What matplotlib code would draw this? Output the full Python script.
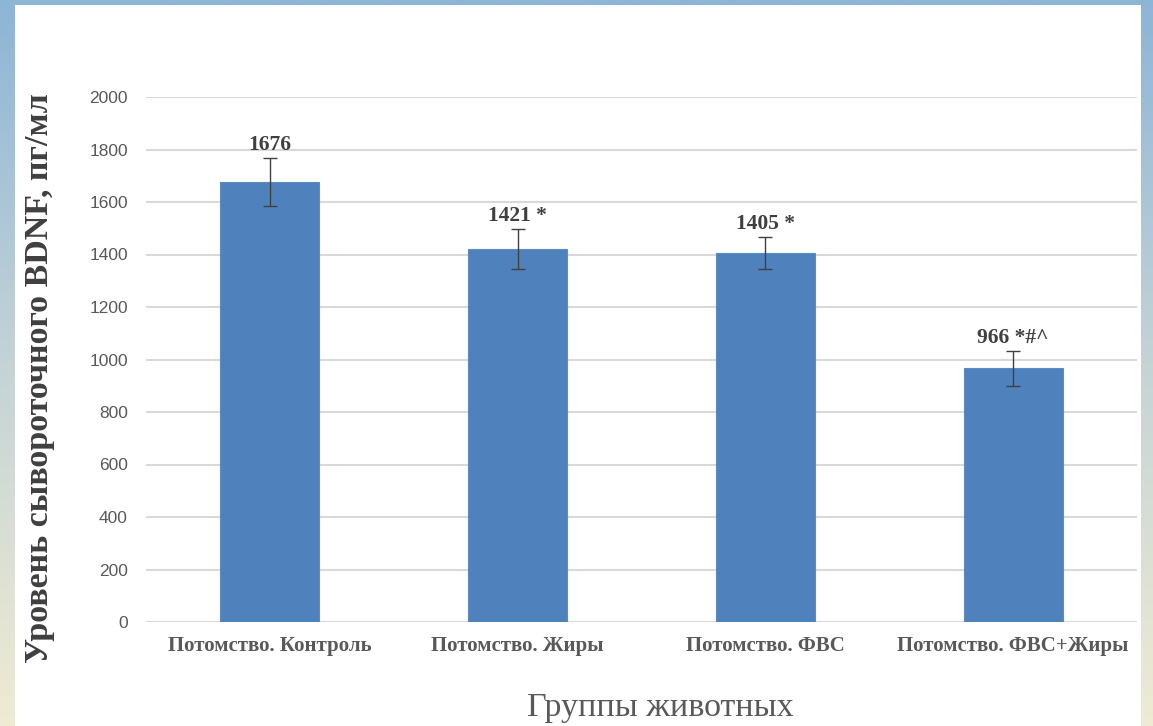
import numpy as np
import matplotlib
matplotlib.use("Agg")
import matplotlib.pyplot as plt
from matplotlib.colors import LinearSegmentedColormap

groups = ["Потомство. Контроль", "Потомство. Жиры", "Потомство. ФВС", "Потомство. ФВС+Жиры"]
bdnf = [1676, 1421, 1405, 966]
bdnf_err = [90, 76, 61, 67]
marks = ["", " *", " *", " *#^"]
yticks = [0, 200, 400, 600, 800, 1000, 1200, 1400, 1600, 1800, 2000]

W, H, DPI = 1153, 726, 100
fig = plt.figure(figsize=(W / DPI, H / DPI), dpi=DPI)

# slide backdrop: blue at the top fading to pale beige at the bottom
bg = fig.add_axes([0, 0, 1, 1], zorder=-10)
cmap = LinearSegmentedColormap.from_list(
    "slide", [(0.0, "#8db5d6"), (0.5, "#c5d3d6"), (1.0, "#efebd4")])
grad = np.linspace(0, 1, 256).reshape(-1, 1)
bg.imshow(grad, aspect="auto", cmap=cmap, extent=[0, 1, 0, 1], origin="upper")
bg.add_patch(plt.Rectangle((15 / W, 0), (1141 - 15) / W, (H - 5) / H,
                           facecolor="white", edgecolor="none"))
bg.set_xlim(0, 1)
bg.set_ylim(0, 1)
bg.axis("off")

left, right = 146 / W, 1137 / W
bottom, top = 1 - 622 / H, 1 - 97 / H
ax = fig.add_axes([left, bottom, right - left, top - bottom])
ax.set_facecolor("none")

x = np.arange(len(groups))
ax.bar(x, bdnf, width=0.4, color="#4f81bd", edgecolor="#5b8cc6", linewidth=0.8, zorder=3)
ax.errorbar(x, bdnf, yerr=bdnf_err, fmt="none", ecolor="#404040",
            elinewidth=1.0, capsize=5, capthick=1.0, zorder=4)

for xi, v, e, m in zip(x, bdnf, bdnf_err, marks):
    ax.text(xi, v + e + 12, f"{v}{m}", ha="center", va="bottom",
            family="Liberation Serif", fontweight="bold", fontsize=15.5,
            color="#404040")

ax.set_xlim(-0.5, len(groups) - 0.5)
ax.set_ylim(0, 2000)
ax.set_yticks(yticks)
ax.set_yticklabels([str(t) for t in yticks], family="Liberation Sans",
                   fontsize=12.5, color="#595959")
ax.set_xticks(x)
ax.set_xticklabels(groups, family="Liberation Serif", fontweight="bold",
                   fontsize=15, color="#595959")
ax.tick_params(axis="y", length=0, pad=13)
ax.tick_params(axis="x", length=0, pad=10)
ax.grid(axis="y", color="#d9d9d9", linewidth=1.5, zorder=0)
ax.set_axisbelow(True)
for s in ax.spines.values():
    s.set_visible(False)
ax.axhline(0, color="#d9d9d9", linewidth=1.5, zorder=2)

fig.text(40 / W, 1 - 378 / H, "Уровень сывороточного BDNF, пг/мл",
         rotation=90, ha="center", va="center", family="Liberation Serif",
         fontweight="bold", fontsize=24.5, color="#3f3f3f")
fig.text(660 / W, 1 - 708 / H, "Группы животных", ha="center", va="center",
         family="Liberation Serif", fontsize=24.5, color="#595959")

fig.savefig("out.png", dpi=DPI)
